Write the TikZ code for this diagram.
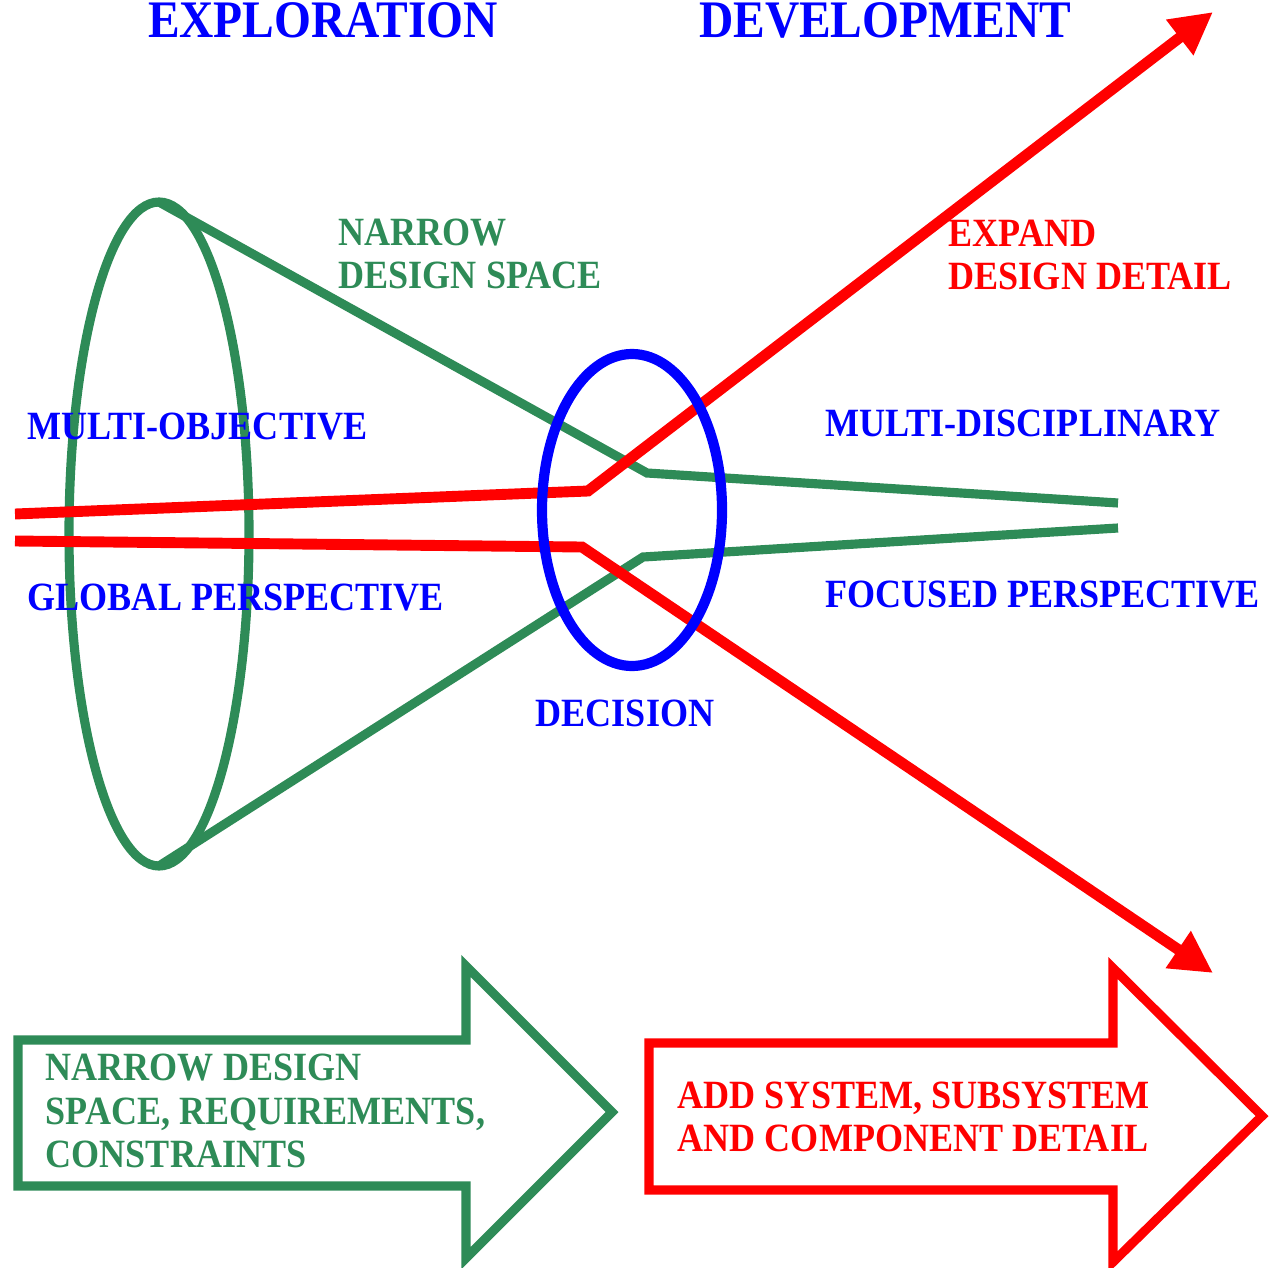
\documentclass[tikz,border=0pt]{standalone}
\usepackage{fontspec}
\setmainfont{Liberation Serif}[FakeStretch=0.9]
\usetikzlibrary{arrows.meta}
\definecolor{conegreen}{RGB}{46,139,87}
\definecolor{decblue}{RGB}{0,0,255}
\definecolor{detred}{RGB}{255,0,0}

\begin{document}
\begin{tikzpicture}[x=0.01cm, y=-0.01cm,
  cone/.style={draw=conegreen, line width=2.6pt},
  redline/.style={draw=detred, line width=3.1pt, -{Triangle[length=4.2mm,width=4.2mm]}},
  bigarrow/.style={line width=2.6pt, line join=miter},
  title/.style={inner sep=0pt, text=decblue, font=\fontsize{15}{18}\selectfont\bfseries},
  lbl/.style={inner sep=0pt, anchor=west, align=left, font=\fontsize{11.4}{12.4}\selectfont\bfseries}]
\useasboundingbox (0,0) rectangle (1274,1267);

% Headings
\node[title] (explore) at (323,20) {EXPLORATION};
\node[title] (develop) at (885,20) {DEVELOPMENT};

% Funnel: opening ellipse and its two sides
\draw[cone] (159,534) ellipse [x radius=90, y radius=332];
\coordinate (coneTop) at (159,202);
\coordinate (coneBot) at (159,866);
\coordinate (neckTop) at (647,473);
\coordinate (neckBot) at (643,557);
\coordinate (stemTop) at (1118,503);
\coordinate (stemBot) at (1118,528);
\draw[cone] (coneTop) -- (neckTop) -- (stemTop);
\draw[cone] (coneBot) -- (neckBot) -- (stemBot);

% Red paths splitting after the decision
\coordinate (inTop) at (15,514);
\coordinate (inBot) at (15,541);
\coordinate (kinkTop) at (588,491);
\coordinate (kinkBot) at (582,547);
\coordinate (tipTop) at (1213,12);
\coordinate (tipBot) at (1213,973);
\draw[redline] (inTop) -- (kinkTop) -- (tipTop);
\draw[redline] (inBot) -- (kinkBot) -- (tipBot);

% Decision ellipse
\draw[draw=decblue, line width=2.9pt] (632,510) ellipse [x radius=90, y radius=156];

% Labels
\node[lbl, text=conegreen] (narrow) at (338,254) {NARROW\\DESIGN SPACE};
\node[lbl, text=detred] (expand) at (948,255) {EXPAND\\DESIGN DETAIL};
\node[lbl, text=decblue] (multiobj) at (27,427) {MULTI-OBJECTIVE};
\node[lbl, text=decblue] (global) at (27,598) {GLOBAL PERSPECTIVE};
\node[lbl, text=decblue] (multidisc) at (825,423) {MULTI-DISCIPLINARY};
\node[lbl, text=decblue] (focused) at (825,595) {FOCUSED PERSPECTIVE};
\node[lbl, text=decblue, anchor=center] (decision) at (625,713) {DECISION};

% Block arrows at the bottom
\draw[bigarrow, draw=conegreen] (18,1040) -- (466,1040) -- (466,966) -- (612,1112)
  -- (466,1258) -- (466,1186) -- (18,1186) -- cycle;
\node[lbl, text=conegreen] (narrowbox) at (45,1111) {NARROW DESIGN\\SPACE, REQUIREMENTS,\\CONSTRAINTS};

\draw[bigarrow, draw=detred] (649,1043) -- (1113,1043) -- (1113,968) -- (1262,1116)
  -- (1113,1262) -- (1113,1190) -- (649,1190) -- cycle;
\node[lbl, text=detred] (addbox) at (677,1117) {ADD SYSTEM, SUBSYSTEM\\AND COMPONENT DETAIL};

\end{tikzpicture}
\end{document}
